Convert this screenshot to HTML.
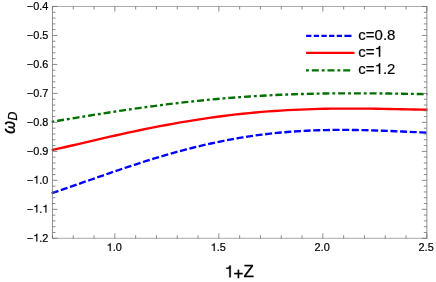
<!DOCTYPE html><html><head><meta charset="utf-8"><style>html,body{margin:0;padding:0;background:#fff}svg{display:block;will-change:transform;opacity:0.999}text{font-family:"Liberation Sans",sans-serif;fill:#000}</style></head><body>
<svg width="436" height="282" viewBox="0 0 436 282">
<rect width="436" height="282" fill="#fff"/>
<path d="M51.7,193.22 L58.1,191.07 L64.4,188.89 L70.8,186.68 L77.2,184.46 L83.5,182.23 L89.9,180.00 L96.3,177.77 L102.6,175.55 L109.0,173.34 L115.4,171.16 L121.7,168.99 L128.1,166.86 L134.5,164.76 L140.8,162.70 L147.2,160.68 L153.6,158.70 L159.9,156.77 L166.3,154.90 L172.7,153.08 L179.0,151.32 L185.4,149.62 L191.8,147.99 L198.1,146.42 L204.5,144.92 L210.9,143.48 L217.2,142.12 L223.6,140.83 L230.0,139.61 L236.3,138.47 L242.7,137.40 L249.1,136.41 L255.4,135.48 L261.8,134.64 L268.2,133.86 L274.5,133.17 L280.9,132.54 L287.3,131.98 L293.6,131.50 L300.0,131.08 L306.4,130.73 L312.7,130.44 L319.1,130.22 L325.5,130.05 L331.8,129.95 L338.2,129.89 L344.6,129.89 L350.9,129.94 L357.3,130.02 L363.7,130.15 L370.0,130.32 L376.4,130.51 L382.8,130.73 L389.1,130.98 L395.5,131.24 L401.9,131.51 L408.2,131.79 L414.6,132.06 L421.0,132.34 L427.4,132.60" fill="none" stroke="#0000ff" stroke-width="2.35" stroke-dasharray="7.05,2.6"/>
<path d="M51.7,150.19 L58.1,148.72 L64.4,147.24 L70.8,145.75 L77.2,144.27 L83.5,142.78 L89.9,141.30 L96.3,139.83 L102.6,138.37 L109.0,136.93 L115.4,135.50 L121.7,134.09 L128.1,132.70 L134.5,131.34 L140.8,130.01 L147.2,128.70 L153.6,127.43 L159.9,126.19 L166.3,124.98 L172.7,123.82 L179.0,122.69 L185.4,121.60 L191.8,120.55 L198.1,119.54 L204.5,118.58 L210.9,117.66 L217.2,116.78 L223.6,115.96 L230.0,115.17 L236.3,114.43 L242.7,113.74 L249.1,113.10 L255.4,112.50 L261.8,111.94 L268.2,111.44 L274.5,110.97 L280.9,110.55 L287.3,110.18 L293.6,109.85 L300.0,109.56 L306.4,109.31 L312.7,109.10 L319.1,108.93 L325.5,108.79 L331.8,108.69 L338.2,108.62 L344.6,108.59 L350.9,108.58 L357.3,108.60 L363.7,108.64 L370.0,108.70 L376.4,108.79 L382.8,108.89 L389.1,109.00 L395.5,109.12 L401.9,109.25 L408.2,109.39 L414.6,109.52 L421.0,109.66 L427.4,109.78" fill="none" stroke="#ff0000" stroke-width="2.35"/>
<path d="M51.7,121.81 L58.1,120.75 L64.4,119.69 L70.8,118.63 L77.2,117.59 L83.5,116.55 L89.9,115.52 L96.3,114.50 L102.6,113.49 L109.0,112.50 L115.4,111.53 L121.7,110.57 L128.1,109.63 L134.5,108.71 L140.8,107.81 L147.2,106.94 L153.6,106.08 L159.9,105.25 L166.3,104.45 L172.7,103.67 L179.0,102.92 L185.4,102.19 L191.8,101.49 L198.1,100.82 L204.5,100.18 L210.9,99.57 L217.2,98.98 L223.6,98.43 L230.0,97.90 L236.3,97.41 L242.7,96.94 L249.1,96.51 L255.4,96.10 L261.8,95.72 L268.2,95.38 L274.5,95.06 L280.9,94.77 L287.3,94.51 L293.6,94.27 L300.0,94.07 L306.4,93.89 L312.7,93.73 L319.1,93.60 L325.5,93.50 L331.8,93.42 L338.2,93.36 L344.6,93.32 L350.9,93.30 L357.3,93.30 L363.7,93.32 L370.0,93.35 L376.4,93.40 L382.8,93.46 L389.1,93.54 L395.5,93.62 L401.9,93.71 L408.2,93.81 L414.6,93.92 L421.0,94.03 L427.4,94.14" fill="none" stroke="#007000" stroke-width="2.35" stroke-dasharray="7,2.9,2.91,2.9" stroke-dashoffset="10.25"/>
<path d="M52.45,6.47 V238.3 M426.85,6.47 V238.3" fill="none" stroke="#6e6e6e" stroke-width="0.76"/>
<path d="M52.07,6.47 H427.23 M52.07,238.3 H427.23" fill="none" stroke="#6e6e6e" stroke-width="0.6"/>
<path d="M52.45,238.3 v-3.0 M52.45,6.47 v3.0 M73.25,238.3 v-3.0 M73.25,6.47 v3.0 M94.05,238.3 v-3.0 M94.05,6.47 v3.0 M114.85,238.3 v-5.0 M114.85,6.47 v5.0 M135.65,238.3 v-3.0 M135.65,6.47 v3.0 M156.45,238.3 v-3.0 M156.45,6.47 v3.0 M177.25,238.3 v-3.0 M177.25,6.47 v3.0 M198.05,238.3 v-3.0 M198.05,6.47 v3.0 M218.85,238.3 v-5.0 M218.85,6.47 v5.0 M239.65,238.3 v-3.0 M239.65,6.47 v3.0 M260.45,238.3 v-3.0 M260.45,6.47 v3.0 M281.25,238.3 v-3.0 M281.25,6.47 v3.0 M302.05,238.3 v-3.0 M302.05,6.47 v3.0 M322.85,238.3 v-5.0 M322.85,6.47 v5.0 M343.65,238.3 v-3.0 M343.65,6.47 v3.0 M364.45,238.3 v-3.0 M364.45,6.47 v3.0 M385.25,238.3 v-3.0 M385.25,6.47 v3.0 M406.05,238.3 v-3.0 M406.05,6.47 v3.0 M426.85,238.3 v-5.0 M426.85,6.47 v5.0" fill="none" stroke="#6e6e6e" stroke-width="0.82"/>
<path d="M52.45,6.47 h5.0 M426.85,6.47 h-5.0 M52.45,12.27 h3.0 M426.85,12.27 h-3.0 M52.45,18.06 h3.0 M426.85,18.06 h-3.0 M52.45,23.86 h3.0 M426.85,23.86 h-3.0 M52.45,29.65 h3.0 M426.85,29.65 h-3.0 M52.45,35.45 h5.0 M426.85,35.45 h-5.0 M52.45,41.24 h3.0 M426.85,41.24 h-3.0 M52.45,47.04 h3.0 M426.85,47.04 h-3.0 M52.45,52.84 h3.0 M426.85,52.84 h-3.0 M52.45,58.63 h3.0 M426.85,58.63 h-3.0 M52.45,64.43 h5.0 M426.85,64.43 h-5.0 M52.45,70.22 h3.0 M426.85,70.22 h-3.0 M52.45,76.02 h3.0 M426.85,76.02 h-3.0 M52.45,81.81 h3.0 M426.85,81.81 h-3.0 M52.45,87.61 h3.0 M426.85,87.61 h-3.0 M52.45,93.41 h5.0 M426.85,93.41 h-5.0 M52.45,99.20 h3.0 M426.85,99.20 h-3.0 M52.45,105.00 h3.0 M426.85,105.00 h-3.0 M52.45,110.79 h3.0 M426.85,110.79 h-3.0 M52.45,116.59 h3.0 M426.85,116.59 h-3.0 M52.45,122.39 h5.0 M426.85,122.39 h-5.0 M52.45,128.18 h3.0 M426.85,128.18 h-3.0 M52.45,133.98 h3.0 M426.85,133.98 h-3.0 M52.45,139.77 h3.0 M426.85,139.77 h-3.0 M52.45,145.57 h3.0 M426.85,145.57 h-3.0 M52.45,151.36 h5.0 M426.85,151.36 h-5.0 M52.45,157.16 h3.0 M426.85,157.16 h-3.0 M52.45,162.96 h3.0 M426.85,162.96 h-3.0 M52.45,168.75 h3.0 M426.85,168.75 h-3.0 M52.45,174.55 h3.0 M426.85,174.55 h-3.0 M52.45,180.34 h5.0 M426.85,180.34 h-5.0 M52.45,186.14 h3.0 M426.85,186.14 h-3.0 M52.45,191.93 h3.0 M426.85,191.93 h-3.0 M52.45,197.73 h3.0 M426.85,197.73 h-3.0 M52.45,203.53 h3.0 M426.85,203.53 h-3.0 M52.45,209.32 h5.0 M426.85,209.32 h-5.0 M52.45,215.12 h3.0 M426.85,215.12 h-3.0 M52.45,220.91 h3.0 M426.85,220.91 h-3.0 M52.45,226.71 h3.0 M426.85,226.71 h-3.0 M52.45,232.50 h3.0 M426.85,232.50 h-3.0 M52.45,238.30 h5.0 M426.85,238.30 h-5.0" fill="none" stroke="#6e6e6e" stroke-width="0.8"/>
<text x="26.83" y="9.72" font-size="10.9" stroke="#000" stroke-width="0.2">−0.4</text>
<text x="26.83" y="38.70" font-size="10.9" stroke="#000" stroke-width="0.2">−0.5</text>
<text x="26.83" y="67.68" font-size="10.9" stroke="#000" stroke-width="0.2">−0.6</text>
<text x="26.83" y="96.66" font-size="10.9" stroke="#000" stroke-width="0.2">−0.7</text>
<text x="26.83" y="125.64" font-size="10.9" stroke="#000" stroke-width="0.2">−0.8</text>
<text x="26.83" y="154.61" font-size="10.9" stroke="#000" stroke-width="0.2">−0.9</text>
<text x="26.83" y="183.59" font-size="10.9" stroke="#000" stroke-width="0.2">−</text><path d="M37.32,183.59 L36.33,183.59 L36.33,178.06 L34.25,178.06 L34.25,177.40 C35.54,177.28 36.09,177.10 36.58,175.86 L37.32,175.86 Z" fill="#000" stroke="#000" stroke-width="0.2" stroke-linejoin="round"/><text x="39.26" y="183.59" font-size="10.9" stroke="#000" stroke-width="0.2">.0</text>
<text x="26.83" y="212.57" font-size="10.9" stroke="#000" stroke-width="0.2">−</text><path d="M37.32,212.57 L36.33,212.57 L36.33,207.03 L34.25,207.03 L34.25,206.38 C35.54,206.26 36.09,206.07 36.58,204.84 L37.32,204.84 Z" fill="#000" stroke="#000" stroke-width="0.2" stroke-linejoin="round"/><text x="39.26" y="212.57" font-size="10.9" stroke="#000" stroke-width="0.2">.</text><path d="M46.41,212.57 L45.42,212.57 L45.42,207.03 L43.34,207.03 L43.34,206.38 C44.63,206.26 45.18,206.07 45.67,204.84 L46.41,204.84 Z" fill="#000" stroke="#000" stroke-width="0.2" stroke-linejoin="round"/>
<text x="26.83" y="241.55" font-size="10.9" stroke="#000" stroke-width="0.2">−</text><path d="M37.32,241.55 L36.33,241.55 L36.33,236.01 L34.25,236.01 L34.25,235.36 C35.54,235.24 36.09,235.05 36.58,233.82 L37.32,233.82 Z" fill="#000" stroke="#000" stroke-width="0.2" stroke-linejoin="round"/><text x="39.26" y="241.55" font-size="10.9" stroke="#000" stroke-width="0.2">.2</text>
<path d="M110.70,250.95 L109.70,250.95 L109.70,245.41 L107.63,245.41 L107.63,244.76 C108.92,244.64 109.46,244.45 109.95,243.22 L110.70,243.22 Z" fill="#000" stroke="#000" stroke-width="0.2" stroke-linejoin="round"/><text x="112.63" y="250.95" font-size="10.9" stroke="#000" stroke-width="0.2">.0</text>
<path d="M214.70,250.95 L213.70,250.95 L213.70,245.41 L211.63,245.41 L211.63,244.76 C212.92,244.64 213.46,244.45 213.95,243.22 L214.70,243.22 Z" fill="#000" stroke="#000" stroke-width="0.2" stroke-linejoin="round"/><text x="216.63" y="250.95" font-size="10.9" stroke="#000" stroke-width="0.2">.5</text>
<text x="314.57" y="250.95" font-size="10.9" stroke="#000" stroke-width="0.2">2.0</text>
<text x="418.57" y="250.95" font-size="10.9" stroke="#000" stroke-width="0.2">2.5</text>
<path d="M230.77,277.30 L229.29,277.30 L229.29,268.77 L226.21,268.77 L226.21,267.76 C228.13,267.57 228.94,267.29 229.66,265.39 L230.77,265.39 Z" fill="#000" stroke="#000" stroke-width="0.3" stroke-linejoin="round"/>
<text x="233.5" y="278.6" font-size="17" stroke="#000" stroke-width="0.3">+</text>
<text x="243.5" y="277.3" font-size="17" stroke="#000" stroke-width="0.3">Z</text>
<text transform="translate(15.2,133.7) rotate(-90) scale(0.94,1)" font-size="17.6" stroke="#000" stroke-width="0.35" font-style="italic">ω</text>
<text transform="translate(17.1,120.5) rotate(-90)" font-size="12.3" stroke="#000" stroke-width="0.25" font-style="italic">D</text>
<path d="M306.10,35.8 H311.40 M313.76,35.8 H319.06 M321.42,35.8 H326.72 M329.08,35.8 H334.38 M336.74,35.8 H342.04 M344.40,35.8 H351.50" stroke="#0000ff" stroke-width="2.2" fill="none"/>
<path d="M306.1,52.8 H354.5" stroke="#ff0000" stroke-width="2.2" fill="none"/>
<path d="M305.9,70.3 H350.4" stroke="#007000" stroke-width="2.2" stroke-dasharray="7,2.9,2.9,2.9" stroke-dashoffset="9.8" fill="none"/>
<text x="358.30" y="39.60" font-size="15" stroke="#000" stroke-width="0.2">c=0.8</text>
<text x="358.30" y="56.70" font-size="15" stroke="#000" stroke-width="0.2">c=</text><path d="M380.24,56.70 L378.86,56.70 L378.86,49.08 L376.01,49.08 L376.01,48.18 C377.79,48.02 378.54,47.76 379.21,46.07 L380.24,46.07 Z" fill="#000" stroke="#000" stroke-width="0.2" stroke-linejoin="round"/>
<text x="358.30" y="73.90" font-size="15" stroke="#000" stroke-width="0.2">c=</text><path d="M380.24,73.90 L378.86,73.90 L378.86,66.28 L376.01,66.28 L376.01,65.38 C377.79,65.22 378.54,64.96 379.21,63.27 L380.24,63.27 Z" fill="#000" stroke="#000" stroke-width="0.2" stroke-linejoin="round"/><text x="382.90" y="73.90" font-size="15" stroke="#000" stroke-width="0.2">.2</text>
</svg></body></html>
